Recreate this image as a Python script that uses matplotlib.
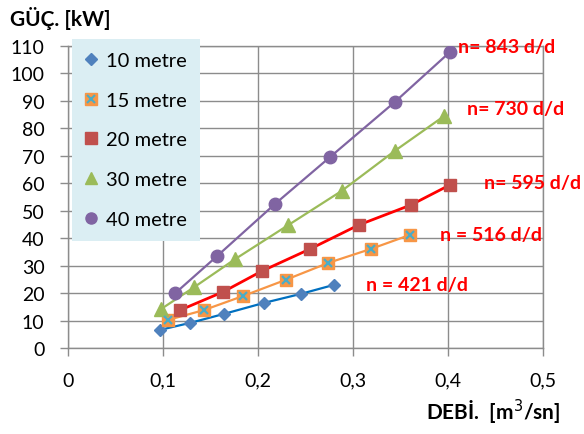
import matplotlib.pyplot as plt
from matplotlib.lines import Line2D
from matplotlib.legend_handler import HandlerTuple
from matplotlib.ticker import FuncFormatter

plt.rcParams['font.family'] = ['Lato', 'DejaVu Sans']

# debi [m3/sn] and güç [kW] for each head
q10 = [0.097, 0.128, 0.164, 0.206, 0.245, 0.280]
p10 = [6.6, 9.1, 12.4, 16.4, 19.7, 23.0]

q15 = [0.105, 0.143, 0.184, 0.229, 0.274, 0.319, 0.360]
p15 = [10.2, 13.8, 18.9, 24.8, 31.0, 36.1, 41.2]

q20 = [0.118, 0.163, 0.204, 0.255, 0.306, 0.361, 0.402]
p20 = [13.8, 20.4, 28.0, 36.1, 44.8, 52.1, 59.4]

q30 = [0.098, 0.133, 0.176, 0.232, 0.288, 0.344, 0.396]
p30 = [14.2, 22.2, 32.4, 44.8, 57.2, 71.8, 84.5]

q40 = [0.113, 0.157, 0.218, 0.276, 0.344, 0.402]
p40 = [20.0, 33.5, 52.5, 69.6, 89.6, 107.8]

labels = ['10 metre', '15 metre', '20 metre', '30 metre', '40 metre']

speed_text = ['n= 843 d/d', 'n= 730 d/d', 'n= 595 d/d', 'n = 516 d/d', 'n = 421 d/d']
speed_x = [0.4105, 0.420, 0.438, 0.392, 0.314]
speed_y = [109.7, 87.4, 60.4, 41.5, 23.3]

fig = plt.figure(figsize=(5.84, 4.35), dpi=100)
ax = fig.add_axes([68/584, 1 - 349/435, 475/584, 302/435])

grid_c = '#8c8c8c'
ax.grid(True, color=grid_c, lw=1.0)
ax.set_axisbelow(True)
for s in ax.spines.values():
    s.set_color(grid_c)
    s.set_linewidth(1.0)

ax.plot(q10, p10, color='#0070C0', lw=1.6, marker='D', ms=6.5,
        mfc='#4F81BD', mec='#4F81BD', zorder=3)
ax.plot(q15, p15, color='#F79646', lw=1.6, marker='s', ms=8.5,
        mfc='#F79646', mec='#F79646', zorder=3)
ax.plot(q15, p15, ls='none', marker='x', ms=6, mew=1.6, color='#4BACC6', zorder=4)
ax.plot(q20, p20, color='#FF0000', lw=2.0, marker='s', ms=9,
        mfc='#C0504D', mec='#C0504D', zorder=3)
ax.plot(q30, p30, color='#9BBB59', lw=1.6, marker='^', ms=9.5,
        mfc='#9BBB59', mec='#9BBB59', zorder=3)
ax.plot(q40, p40, color='#8064A2', lw=1.6, marker='o', ms=9,
        mfc='#8064A2', mec='#8064A2', zorder=3)

ax.set_xlim(0, 0.5)
ax.set_ylim(0, 110)
ax.set_xticks([0, 0.1, 0.2, 0.3, 0.4, 0.5])
ax.set_yticks(range(0, 111, 10))
ax.xaxis.set_major_formatter(FuncFormatter(lambda v, p: ('%g' % round(v, 1)).replace('.', ',')))
ax.tick_params(axis='both', colors=grid_c, labelcolor='black', labelsize=14,
               length=6, width=1.0, direction='out')
ax.tick_params(axis='x', pad=11)
ax.tick_params(axis='y', pad=11)

for t, x, y in zip(speed_text, speed_x, speed_y):
    ax.text(x, y, t, color='#FF0000', fontsize=14, fontweight='bold',
            ha='left', va='center', clip_on=False)

fig.text(10/584, 1 - 18/435, 'GÜÇ. [kW]', fontsize=15, fontweight='bold',
         ha='left', va='center')
fig.text(560/584, 1 - 412/435, 'DEBİ.  [m$^3$/sn]', fontsize=15, fontweight='bold',
         ha='right', va='center')

handles = [
    Line2D([], [], ls='none', marker='D', ms=6.5, color='#4F81BD'),
    (Line2D([], [], ls='none', marker='s', ms=8, color='#F79646'),
     Line2D([], [], ls='none', marker='x', ms=5.5, mew=1.5, color='#4BACC6')),
    Line2D([], [], ls='none', marker='s', ms=8, color='#C0504D'),
    Line2D([], [], ls='none', marker='^', ms=8.5, color='#9BBB59'),
    Line2D([], [], ls='none', marker='o', ms=8, color='#8064A2'),
]
leg = fig.legend(handles, labels, loc='upper left',
                 bbox_to_anchor=(72/584, 1 - 40/435), bbox_transform=fig.transFigure,
                 fontsize=14.5, frameon=True, fancybox=False, borderaxespad=0,
                 labelspacing=1.12, handlelength=0.6, handletextpad=0.45,
                 borderpad=0.65, handler_map={tuple: HandlerTuple(ndivide=1, pad=0)})
leg.get_frame().set_facecolor('#DBEEF3')
leg.get_frame().set_edgecolor('none')
leg.get_frame().set_alpha(1)
leg.set_zorder(5)

fig.savefig('out.png', dpi=100)
